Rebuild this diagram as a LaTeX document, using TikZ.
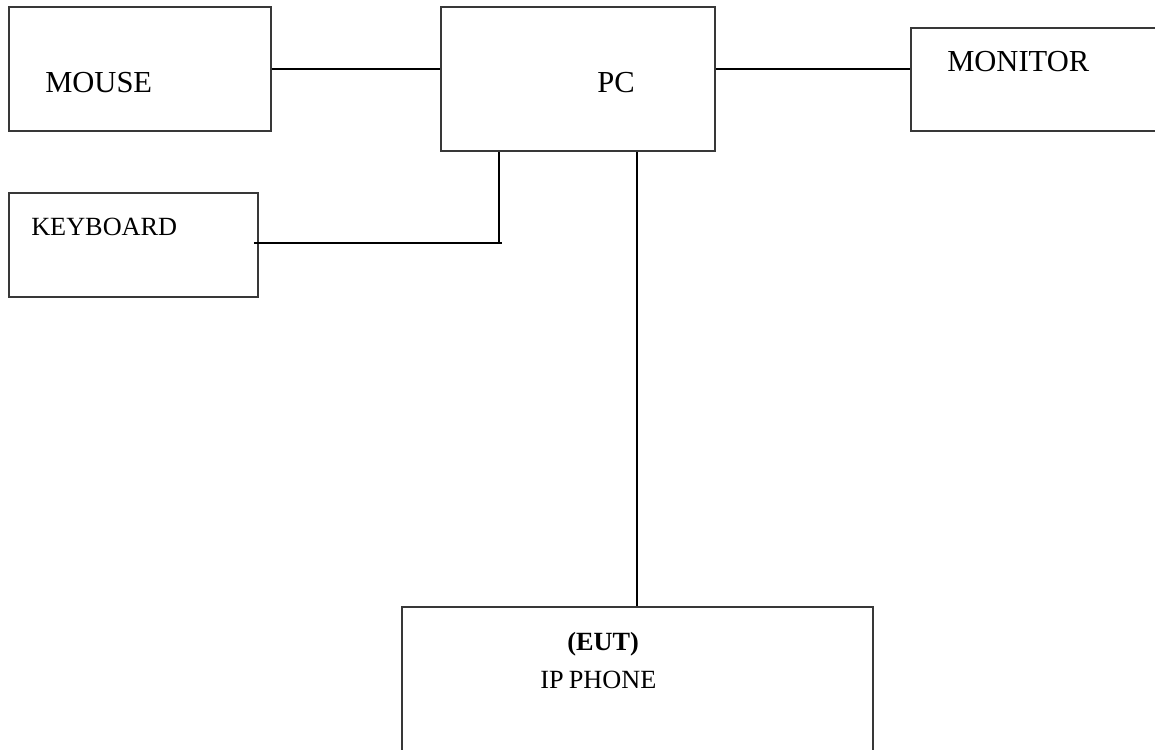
\documentclass[tikz,border=0pt]{standalone}
\usepackage{fontspec}
\setmainfont{Liberation Serif}
\usetikzlibrary{fit}
\begin{document}
\begin{tikzpicture}[x=0.75pt,y=-0.75pt,
  box/.style={draw=black!78, line width=1.4pt, inner sep=0pt, rectangle},
  wire/.style={draw=black, line width=1.5pt},
  big/.style={inner sep=0pt, anchor=base west, font=\fontsize{22.9}{26}\selectfont},
  small/.style={inner sep=0pt, anchor=base west, font=\fontsize{19.7}{23}\selectfont}]
\useasboundingbox (0,0) rectangle (1155,749);
\clip (0,0) rectangle (1155,749);
% boxes
\node[box, fit={(9,7) (271,131)}] (mouse) {};
\node[box, fit={(441,7) (715,151)}] (pc) {};
\node[box, fit={(911,28) (1170,131)}] (monitor) {};
\node[box, fit={(9,193) (258,297)}] (kb) {};
\node[box, fit={(402,607) (873,770)}] (phone) {};
% labels
\node[big] (tmouse) at (45,92) {MOUSE};
\node[big] (tpc) at (597,92) {PC};
\node[big] (tmon) at (947,72) {MONITOR};
\node[small] (tkb) at (31,235) {KEYBOARD};
\node[small] (teut) at (567,650) {\bfseries(EUT)};
\node[small] (tphone) at (540,688) {IP\kern-1pt\ PHONE};
% connectors
\coordinate (mj) at (0,69.5);
\coordinate (kj) at (499,243);
\coordinate (pj) at (637,0);
\draw[wire] (mouse.east |- mj) -- (pc.west |- mj);
\draw[wire] (pc.east |- mj) -- (monitor.west |- mj);
\draw[wire] (kj |- pc.south) -- (kj) -- ++(3,0);
\draw[wire] ([xshift=-5*0.75pt]kb.east |- kj) -- (kj);
\draw[wire] (pj |- pc.south) -- (pj |- phone.north);
\end{tikzpicture}
\end{document}
